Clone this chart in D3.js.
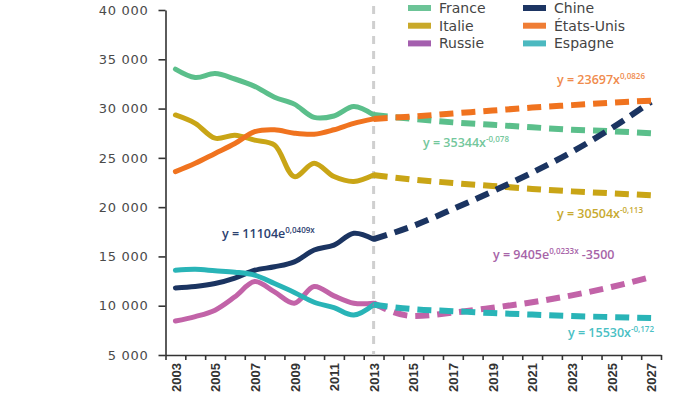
<!DOCTYPE html>
<html>
<head>
<meta charset="utf-8">
<script src="https://cdn.jsdelivr.net/npm/d3@7"></script>
<style>
  body { margin: 0; background: #fff; }
  svg { display: block; }
  .axis path, .axis line { stroke: #333; stroke-width: 1.6; fill: none; }
  .y-axis text { font-family: "DejaVu Sans", sans-serif; font-size: 13px; fill: #4a4a4a; letter-spacing: 0.7px; }
  .x-labels text { font-family: "Liberation Sans", sans-serif; font-size: 13px; font-weight: bold; fill: #333; }
  .legend text { font-family: "DejaVu Sans", sans-serif; font-size: 14px; fill: #444; }
  .eq { font-family: "Open Sans", sans-serif; font-size: 12.5px; font-weight: 600; }
</style>
</head>
<body>
<svg id="chart" width="700" height="394"></svg>
<script>
// categories
const years = d3.range(2003, 2028);
const labelYears = years.filter(d => d % 2 === 1);
const histYears = d3.range(2003, 2014);
const projYears = [2013, 2015, 2017, 2019, 2021, 2023, 2025, 2027];
const yTicks = [5000, 10000, 15000, 20000, 25000, 30000, 35000, 40000];

const countries = ['France', 'Italie', 'Russie', 'Chine', 'États-Unis', 'Espagne'];

// observed 2003-2013
const franceHist  = [34000, 33150, 33550, 33000, 32250, 31150, 30450, 29100, 29250, 30200, 29350];
const italieHist  = [29350, 28500, 27000, 27300, 26800, 26300, 23100, 24450, 23100, 22600, 23250];
const russieHist  = [8450, 8900, 9550, 10900, 12450, 11400, 10250, 11950, 11000, 10250, 10250];
const chineHist   = [11800, 11950, 12250, 12800, 13600, 13950, 14450, 15650, 16150, 17350, 16750];
const usaHist     = [23600, 24450, 25450, 26450, 27650, 27850, 27500, 27400, 27850, 28500, 28950];
const espagneHist = [13600, 13700, 13550, 13400, 13100, 12250, 11350, 10350, 9800, 9050, 10100];

// projections 2013-2027
const franceProj  = [29350, 28950, 28600, 28350, 28100, 27850, 27700, 27500];
const italieProj  = [23250, 22800, 22450, 22150, 21850, 21600, 21400, 21200];
const russieProj  = [10250, 8950, 9300, 9800, 10350, 11050, 11900, 12900];
const chineProj   = [16750, 18100, 19800, 21600, 23500, 25600, 28000, 30700];
const usaProj     = [28950, 29200, 29500, 29800, 30100, 30350, 30600, 30800];
const espagneProj = [10100, 9650, 9450, 9250, 9100, 8950, 8850, 8750];

const colors = {
  'France': '#5bbf8b', 'Italie': '#c9a516', 'Russie': '#c263a8',
  'Chine': '#1b3461', 'États-Unis': '#f0731f', 'Espagne': '#29b4b7'
};
const legendColors = {
  'France': '#6cc497', 'Italie': '#c9a92a', 'Russie': '#a45fae',
  'Chine': '#1d3563', 'États-Unis': '#ef7d35', 'Espagne': '#4cb9c0'
};
const eqColors = {
  'France': '#74c79c', 'Italie': '#c8aa30', 'Russie': '#a764a8',
  'Chine': '#2c4170', 'États-Unis': '#f08b4c', 'Espagne': '#4ac0c4'
};

const hist = [franceHist, italieHist, russieHist, chineHist, usaHist, espagneHist];
const proj = [franceProj, italieProj, russieProj, chineProj, usaProj, espagneProj];
const series = countries.map((c, i) => ({
  name: c,
  hist: histYears.map((yr, j) => ({ year: yr, value: hist[i][j] })),
  proj: projYears.map((yr, j) => ({ year: yr, value: proj[i][j] }))
}));

const equations = [
  { name: 'États-Unis', main: 'y = 23697x', sup: '0,0826', tail: '', x: 557, y: 84 },
  { name: 'France', main: 'y = 35344x', sup: '-0,078', tail: '', x: 423, y: 147 },
  { name: 'Chine', main: 'y = 11104e', sup: '0,0409x', tail: '', x: 222, y: 238 },
  { name: 'Italie', main: 'y = 30504x', sup: '-0,113', tail: '', x: 557, y: 218 },
  { name: 'Russie', main: 'y = 9405e', sup: '0,0233x', tail: ' -3500', x: 493, y: 259 },
  { name: 'Espagne', main: 'y = 15530x', sup: '-0,172', tail: '', x: 568, y: 337 }
];

const svg = d3.select('#chart');

const x = d3.scaleLinear().domain([2002.5, 2027.5]).range([165.5, 661]);
const y = d3.scaleLinear().domain([5000, 40000]).range([355, 10]);

const fmt = d3.formatLocale({ decimal: ',', thousands: ' ', grouping: [3], currency: ['', ''] }).format(',d');

// y axis
svg.append('g')
  .attr('class', 'axis y-axis')
  .attr('transform', `translate(${x.range()[0]},0)`)
  .call(d3.axisLeft(y).tickValues(yTicks).tickFormat(fmt).tickSize(7).tickSizeOuter(0).tickPadding(10));

// x axis: ticks at category boundaries
svg.append('g')
  .attr('class', 'axis x-axis')
  .attr('transform', `translate(0,${y.range()[0]})`)
  .call(d3.axisBottom(x).tickValues(d3.range(2002.5, 2028, 1)).tickFormat('').tickSize(5).tickSizeOuter(0));

// x labels, rotated
const xl = svg.append('g')
  .attr('class', 'x-labels')
  .attr('transform', `translate(0,${y.range()[0]})`)
  .call(d3.axisBottom(x).tickValues(labelYears).tickFormat(d3.format('d')).tickSize(0));
xl.select('.domain').remove();
xl.selectAll('text')
  .attr('transform', 'rotate(-90)')
  .attr('text-anchor', 'end')
  .attr('x', -8)
  .attr('y', 0)
  .attr('dy', '0.36em');

// 2013 separator
svg.append('line')
  .attr('x1', x(2013)).attr('x2', x(2013))
  .attr('y1', 6).attr('y2', y(5000))
  .attr('stroke', '#cfcfcf')
  .attr('stroke-width', 3)
  .attr('stroke-dasharray', '8,7');

const lineHist = d3.line()
  .x(d => x(d.year)).y(d => y(d.value))
  .curve(d3.curveCatmullRom.alpha(0.5));
const lineProj = d3.line()
  .x(d => x(d.year)).y(d => y(d.value))
  .curve(d3.curveMonotoneX);

svg.append('g').selectAll('path')
  .data(series)
  .join('path')
  .attr('d', d => lineHist(d.hist))
  .attr('fill', 'none')
  .attr('stroke', d => colors[d.name])
  .attr('stroke-width', 5)
  .attr('stroke-linecap', 'round')
  .attr('stroke-linejoin', 'round');

svg.append('g').selectAll('path')
  .data(series)
  .join('path')
  .attr('d', d => lineProj(d.proj))
  .attr('fill', 'none')
  .attr('stroke', d => colors[d.name])
  .attr('stroke-width', 6)
  .attr('stroke-dasharray', '14,8');

// equations
const eq = svg.append('g').selectAll('text')
  .data(equations)
  .join('text')
  .attr('class', 'eq')
  .attr('x', d => d.x)
  .attr('y', d => d.y)
  .attr('fill', d => eqColors[d.name]);
eq.append('tspan').text(d => d.main);
eq.append('tspan').attr('font-size', '8px').attr('dy', -5).text(d => d.sup);
eq.append('tspan').attr('dy', 5).text(d => d.tail);

// legend
const legend = svg.append('g').attr('class', 'legend');
const item = legend.selectAll('g')
  .data(countries)
  .join('g')
  .attr('transform', (d, i) => `translate(${408 + Math.floor(i / 3) * 115},${8 + (i % 3) * 17.7})`);
item.append('rect')
  .attr('x', 0).attr('y', -3)
  .attr('width', 23).attr('height', 6)
  .attr('fill', d => legendColors[d]);
item.append('text')
  .attr('x', 31).attr('y', 5)
  .text(d => d);
</script>
</body>
</html>
